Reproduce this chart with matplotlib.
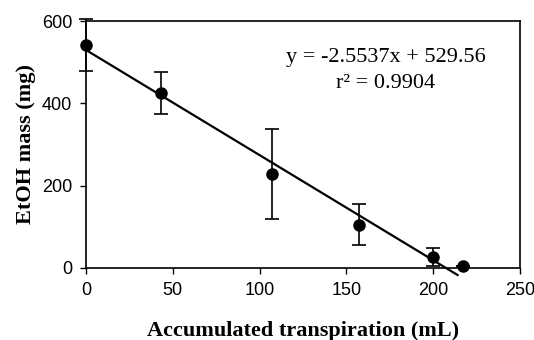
import numpy as np
import matplotlib.pyplot as plt

# data
transp = [0, 43, 107, 157, 200, 217]
etoh = [542, 425, 228, 105, 27, 5]
err = [63, 50, 110, 50, 22, 0]

slope = -2.5537
intercept = 529.56
fit_x = np.array([0, 214])

plt.rcParams['font.family'] = ['Liberation Sans', 'DejaVu Sans']

fig = plt.figure(figsize=(5.34, 3.4), dpi=100)
ax = fig.add_axes([86 / 534, 72 / 340, 434 / 534, 247 / 340])

ax.errorbar(transp, etoh, yerr=err, fmt='o', color='black', ms=8,
            capsize=5, elinewidth=1.2, capthick=1.2, clip_on=False, zorder=3)
ax.plot(fit_x, slope * fit_x + intercept, color='black', lw=1.6, clip_on=False)

ax.set_xlim(0, 250)
ax.set_ylim(0, 600)
ax.set_xticks([0, 50, 100, 150, 200, 250])
ax.set_yticks([0, 200, 400, 600])
ax.tick_params(direction='out', length=4, width=1, labelsize=13, pad=6)
for s in ax.spines.values():
    s.set_linewidth(1.2)

ax.text(0.69, 0.80, 'y = -2.5537x + 529.56\nr\u00b2 = 0.9904', transform=ax.transAxes,
        ha='center', va='center', fontsize=16, family='Liberation Serif',
        linespacing=1.55)

ax.set_xlabel('Accumulated transpiration (mL)', fontsize=16, fontweight='bold',
              family='Liberation Serif', labelpad=16)
ax.set_ylabel('EtOH mass (mg)', fontsize=16, fontweight='bold',
              family='Liberation Serif', labelpad=4)

fig.savefig('out.png', dpi=100)
